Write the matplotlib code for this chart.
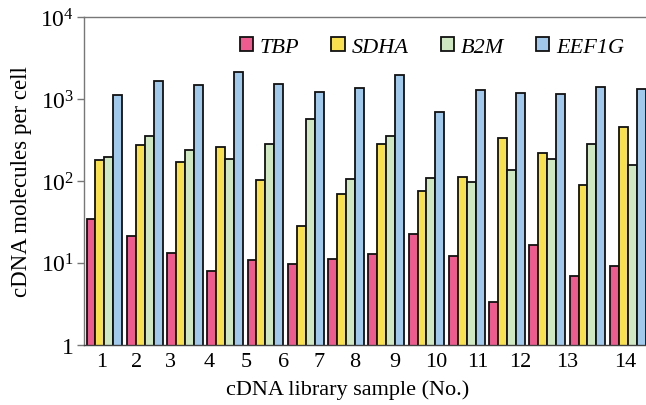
import numpy as np
import matplotlib
matplotlib.use("Agg")
import matplotlib.pyplot as plt
from matplotlib.ticker import FixedLocator, FuncFormatter, NullLocator

plt.rcParams['font.family'] = ['Liberation Serif', 'DejaVu Serif']
plt.rcParams['mathtext.fontset'] = 'custom'
plt.rcParams['mathtext.rm'] = 'Liberation Serif'
plt.rcParams['mathtext.it'] = 'Liberation Serif:italic'

samples = ['1', '2', '3', '4', '5', '6', '7', '8', '9', '10', '11', '12', '13', '14']
genes = ['TBP', 'SDHA', 'B2M', 'EEF1G']

# cDNA molecules per cell
tbp = [34, 21.5, 13.2, 8.0, 10.7, 9.6, 11.2, 12.9, 22.4, 12.1, 3.37, 16.7, 6.9, 9.1]
sdha = [180, 275, 169, 257, 104, 28.5, 69, 283, 75, 111, 337, 217, 90, 452]
b2m = [198, 351, 241, 185, 285, 570, 106, 357, 108, 98, 136, 184, 283, 158]
eef1g = [1120, 1670, 1480, 2150, 1550, 1228, 1375, 1963, 689, 1300, 1194, 1162, 1413, 1312]

# the sample numbers in the original are not centred under their groups
label_pos = [-0.06, 0.81, 1.65, 2.60, 3.52, 4.44, 5.33, 6.22, 7.22, 8.24, 9.28, 10.32, 11.5, 12.95]

colors = ['#EE5B8E', '#F8E04E', '#D0E8C2', '#A0C9EC']
series = [tbp, sdha, b2m, eef1g]

fig = plt.figure(figsize=(6.46, 4.06), dpi=100)
ax = fig.add_axes([0.130, 0.1485, 0.876, 0.8065])

x = np.arange(len(samples))
w = 0.222
for k, (vals, name, c) in enumerate(zip(series, genes, colors)):
    ax.bar(x + (k - 1.5) * w, vals, width=w, color=c,
           edgecolor='#111111', linewidth=1.3, label=name, zorder=2)

ax.set_yscale('log')
ax.set_ylim(1, 1e4)
ax.set_xlim(-0.507, 13.55)

ax.yaxis.set_major_locator(FixedLocator([1, 10, 100, 1000, 10000]))
ax.yaxis.set_minor_locator(NullLocator())
ax.yaxis.set_major_formatter(FuncFormatter(
    lambda v, p: '1' if v == 1 else r'$10^{%d}$' % round(np.log10(v))))
ax.tick_params(axis='y', direction='out', length=5, width=1, color='#777777',
               labelsize=17, pad=2)

ax.set_xticks(label_pos)
ax.set_xticklabels(samples)
ax.tick_params(axis='x', length=0, labelsize=16, pad=5)

for s in ['left', 'top', 'bottom']:
    ax.spines[s].set_color('#777777')
    ax.spines[s].set_linewidth(1.0)
ax.spines['bottom'].set_color('#444444')
ax.spines['right'].set_visible(False)

ax.set_ylabel('cDNA molecules per cell', fontsize=16.5, labelpad=6)
ax.set_xlabel('cDNA library sample (No.)', fontsize=16, labelpad=4)
ax.xaxis.set_label_coords(0.466, -0.105)

leg = ax.legend(loc='upper right', bbox_to_anchor=(0.99, 1.0), ncol=4,
                frameon=False, handlelength=0.6, handleheight=0.6,
                handletextpad=0.3, columnspacing=1.45,
                prop={'family': 'Liberation Serif', 'style': 'italic', 'size': 16})
for h in leg.legend_handles:
    h.set_linewidth(1.3)

fig.savefig('out.png', dpi=100)
